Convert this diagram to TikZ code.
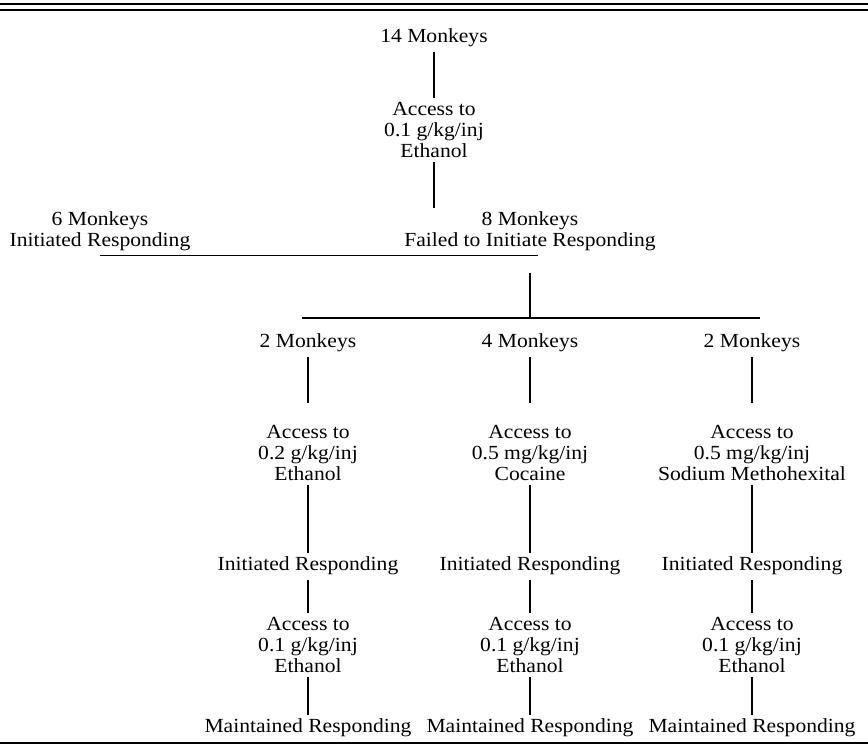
\documentclass[tikz,border=0pt]{standalone}
\usepackage{fontspec}
\setmainfont{Liberation Serif}[FakeStretch=1.08]
\usepackage{tikz}

\begin{document}
\begin{tikzpicture}[
  x=0.5pt, y=-0.5pt,
  lbl/.style={align=center, inner sep=2pt, font=\fontsize{10}{10.5}\selectfont},
  link/.style={line width=0.75pt},
  rule/.style={line width=0.6pt}
]
\useasboundingbox (0,0) rectangle (868,745);
% table rules
\draw[rule] (0,4) -- (868,4);
\draw[rule] (0,10) -- (868,10);
\draw[line width=0.75pt] (0,743) -- (868,743);

% first stage
\node[lbl] (all) at (434,38) {14 Monkeys};
\node[lbl] (first) at (434,130) {Access to\\0.1 g/kg/inj\\Ethanol};
\node[lbl] (init) at (100,231.5) {6 Monkeys\\Initiated Responding};
\node[lbl] (fail) at (530,231.5) {8 Monkeys\\Failed to Initiate Responding};
\coordinate (split) at (530,318);
\coordinate (splitw) at (302,318);
\coordinate (splite) at (760,318);

% three groups
\node[lbl] (grpA) at (308,343) {2 Monkeys};
\node[lbl] (grpB) at (530,343) {4 Monkeys};
\node[lbl] (grpC) at (752,343) {2 Monkeys};
\node[lbl] (drugA) at (308,453) {Access to\\0.2 g/kg/inj\\Ethanol};
\node[lbl] (drugB) at (530,453) {Access to\\0.5 mg/kg/inj\\Cocaine};
\node[lbl] (drugC) at (752,453) {Access to\\0.5 mg/kg/inj\\Sodium Methohexital};
\node[lbl] (initA) at (308,566) {Initiated Responding};
\node[lbl] (initB) at (530,566) {Initiated Responding};
\node[lbl] (initC) at (752,566) {Initiated Responding};
\node[lbl] (ethA) at (308,645) {Access to\\0.1 g/kg/inj\\Ethanol};
\node[lbl] (ethB) at (530,645) {Access to\\0.1 g/kg/inj\\Ethanol};
\node[lbl] (ethC) at (752,645) {Access to\\0.1 g/kg/inj\\Ethanol};
\node[lbl] (keepA) at (308,728) {Maintained Responding};
\node[lbl] (keepB) at (530,728) {Maintained Responding};
\node[lbl] (keepC) at (752,728) {Maintained Responding};

% connectors
\draw[link] (all) -- (first);
\draw[link] (first) -- (first |- fail.north);
\draw[rule] (init.south) -- ([xshift=4pt]fail.south);
\draw[link, shorten <=8.5pt] (fail) -- (split);
\draw[rule] (splitw) -- (splite);
\draw[link, shorten >=9pt] (grpA) -- (drugA);
\draw[link, shorten >=9pt] (grpB) -- (drugB);
\draw[link, shorten >=9pt] (grpC) -- (drugC);
\draw[link] (drugA) -- (initA);
\draw[link] (drugB) -- (initB);
\draw[link] (drugC) -- (initC);
\draw[link] (initA) -- (ethA);
\draw[link] (initB) -- (ethB);
\draw[link] (initC) -- (ethC);
\draw[link] (ethA) -- (keepA);
\draw[link] (ethB) -- (keepB);
\draw[link] (ethC) -- (keepC);
\end{tikzpicture}
\end{document}
